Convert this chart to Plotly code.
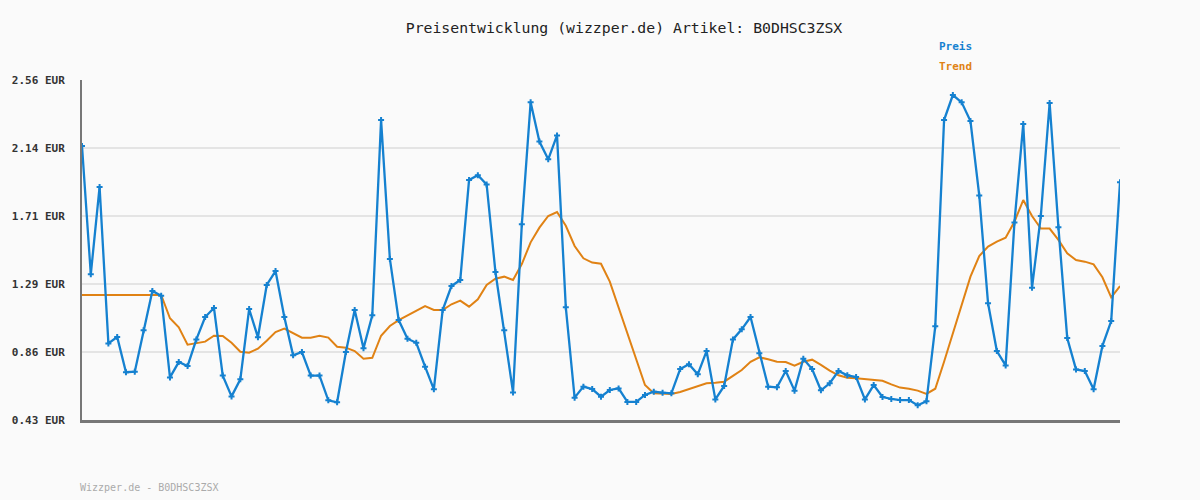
import plotly.graph_objects as go

# Preis (price) series, one value per observation
preis = [
    2.146, 1.343, 1.890, 0.910, 0.950, 0.729, 0.733, 0.992, 1.238, 1.209,
    0.697, 0.793, 0.768, 0.935, 1.075, 1.132, 0.708, 0.578, 0.685, 1.125,
    0.948, 1.276, 1.363, 1.075, 0.835, 0.856, 0.708, 0.708, 0.553, 0.541,
    0.856, 1.119, 0.879, 1.086, 2.309, 1.439, 1.056, 0.939, 0.914, 0.764,
    0.622, 1.119, 1.269, 1.307, 1.933, 1.963, 1.906, 1.357, 0.992, 0.603,
    1.656, 2.420, 2.174, 2.063, 2.213, 1.136, 0.570, 0.639, 0.624, 0.576,
    0.618, 0.628, 0.543, 0.543, 0.587, 0.607, 0.601, 0.597, 0.749, 0.779,
    0.716, 0.862, 0.559, 0.643, 0.935, 0.998, 1.075, 0.848, 0.639, 0.635,
    0.737, 0.614, 0.814, 0.749, 0.616, 0.660, 0.737, 0.710, 0.699, 0.559,
    0.649, 0.574, 0.562, 0.555, 0.555, 0.522, 0.547, 1.017, 2.309, 2.466,
    2.420, 2.303, 1.837, 1.161, 0.862, 0.772, 1.668, 2.284, 1.259, 1.708,
    2.416, 1.637, 0.944, 0.747, 0.737, 0.622, 0.894, 1.050, 1.919,
]

trend = [
    1.213, 1.213, 1.213, 1.213, 1.213, 1.213, 1.213, 1.213, 1.213, 1.213,
    1.067, 1.011, 0.902, 0.910, 0.921, 0.958, 0.956, 0.914, 0.858, 0.852,
    0.877, 0.927, 0.981, 1.002, 0.973, 0.946, 0.946, 0.958, 0.946, 0.889,
    0.883, 0.862, 0.814, 0.820, 0.958, 1.019, 1.056, 1.084, 1.115, 1.144,
    1.119, 1.119, 1.155, 1.178, 1.140, 1.186, 1.276, 1.315, 1.328, 1.307,
    1.407, 1.543, 1.635, 1.708, 1.733, 1.647, 1.520, 1.443, 1.416, 1.409,
    1.297, 1.136, 0.967, 0.816, 0.649, 0.597, 0.597, 0.593, 0.605, 0.624,
    0.639, 0.660, 0.664, 0.670, 0.706, 0.743, 0.795, 0.823, 0.810, 0.795,
    0.793, 0.770, 0.795, 0.808, 0.775, 0.739, 0.710, 0.695, 0.691, 0.687,
    0.683, 0.676, 0.653, 0.633, 0.626, 0.614, 0.593, 0.626, 0.795, 0.973,
    1.150, 1.328, 1.457, 1.516, 1.547, 1.572, 1.672, 1.808, 1.708, 1.629,
    1.629, 1.558, 1.474, 1.432, 1.422, 1.405, 1.324, 1.198, 1.269,
]

x_idx = list(range(len(preis)))

y_tickvals = [0.43, 0.856, 1.282, 1.708, 2.134, 2.56]
y_ticktext = ["0.43 EUR", "0.86 EUR", "1.29 EUR", "1.71 EUR", "2.14 EUR", "2.56 EUR"]

title_text = "Preisentwicklung (wizzper.de) Artikel: B0DHSC3ZSX"
footer_text = "Wizzper.de - B0DHSC3ZSX"

BLUE = "#1581d0"
ORANGE = "#e08214"
MONO = "DejaVu Sans Mono"

fig = go.Figure()
fig.add_trace(go.Scatter(
    x=x_idx, y=trend, mode="lines", name="Trend",
    line=dict(color=ORANGE, width=2),
    hoverinfo="skip",
))
fig.add_trace(go.Scatter(
    x=x_idx, y=preis, mode="lines+markers", name="Preis",
    line=dict(color=BLUE, width=2.3),
    marker=dict(symbol="cross", size=5, color=BLUE),
))

fig.update_layout(
    width=1200, height=500,
    paper_bgcolor="#fafafa", plot_bgcolor="#fafafa",
    margin=dict(l=80, r=80, t=80, b=80),
    showlegend=False,
    title=dict(text=title_text, x=624 / 1200, xanchor="center", y=1 - 28 / 500, yanchor="middle",
               font=dict(family=MONO, size=14.8, color="#222")),
    font=dict(family=MONO),
)
fig.update_xaxes(
    range=[0, len(preis) - 1], showgrid=False, zeroline=False,
    showticklabels=False, ticks="",
    showline=True, linecolor="#777", linewidth=3,
)
fig.update_yaxes(
    range=[0.43, 2.56], tickvals=y_tickvals, ticktext=y_ticktext,
    showgrid=True, gridcolor="#e4e4e4", gridwidth=2, zeroline=False,
    showline=True, linecolor="#777", linewidth=2,
    tickfont=dict(family=MONO, size=11, color="#333", weight="bold"),
    ticks="", ticklabelstandoff=13,
)

fig.add_annotation(text="Preis", xref="paper", yref="paper", x=(937 - 80) / 1040, y=(500 - 47 - 80) / 340,
                   xanchor="left", yanchor="middle", showarrow=False,
                   font=dict(family=MONO, size=11, color=BLUE, weight="bold"))
fig.add_annotation(text="Trend", xref="paper", yref="paper", x=(937 - 80) / 1040, y=(500 - 67 - 80) / 340,
                   xanchor="left", yanchor="middle", showarrow=False,
                   font=dict(family=MONO, size=11, color=ORANGE, weight="bold"))
fig.add_annotation(text=footer_text, xref="paper", yref="paper", x=-4 / 1040, y=(500 - 487 - 80) / 340,
                   xanchor="left", yanchor="middle", showarrow=False,
                   font=dict(family=MONO, size=10, color="#aaa"))

fig.write_html("out.html", config={"displayModeBar": False},
               post_script="document.body.style.margin='0';document.body.style.background='#fafafa';")
